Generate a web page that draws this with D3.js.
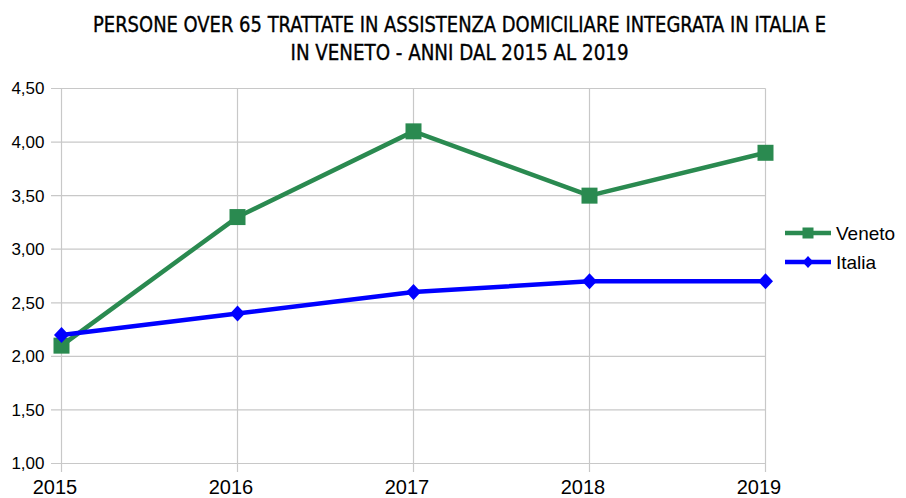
<!DOCTYPE html>
<html><head><meta charset="utf-8">
<script src="https://cdn.jsdelivr.net/npm/d3@7"></script>
<style>body{margin:0;background:#fff}svg{display:block}</style>
</head><body>
<svg id="c" width="906" height="498"></svg>
<script>
const years = [2015, 2016, 2017, 2018, 2019];
const veneto = [2.1, 3.3, 4.1, 3.5, 3.9];
const italia = [2.2, 2.4, 2.6, 2.7, 2.7];
const yTicks = [1.0, 1.5, 2.0, 2.5, 3.0, 3.5, 4.0, 4.5];
const titleLines = ["PERSONE OVER 65 TRATTATE IN ASSISTENZA DOMICILIARE INTEGRATA IN ITALIA E", "IN VENETO - ANNI DAL 2015 AL 2019"];
const seriesNames = ["Veneto", "Italia"];
const colors = {Veneto: "#2a8a50", Italia: "#0000ff"};

const svg = d3.select("#c");
const x = d3.scalePoint().domain(years).range([61.5, 765.5]);
const y = d3.scaleLinear().domain([1, 4.5]).range([463.5, 88.5]);
const fmt = d => d3.format(".2f")(d).replace(".", ",");

// grid
svg.append("g").selectAll("line").data(yTicks).join("line")
  .attr("x1", 51).attr("x2", 765.5)
  .attr("y1", d => y(d)).attr("y2", d => y(d))
  .attr("stroke", "#c8c8c8").attr("stroke-width", 1.2);
svg.append("g").selectAll("line").data(years).join("line")
  .attr("x1", d => x(d)).attr("x2", d => x(d))
  .attr("y1", 88.5).attr("y2", 472)
  .attr("stroke", "#c8c8c8").attr("stroke-width", 1.2);

// axes labels
const yAxis = d3.axisLeft(y).tickValues(yTicks).tickFormat(fmt).tickSize(0).tickPadding(17);
const gy = svg.append("g").attr("transform", "translate(61.5,0)").call(yAxis);
gy.select(".domain").remove();
gy.selectAll("text").attr("font-family", "Liberation Sans, Arial, sans-serif").attr("font-size", 17).attr("fill", "#000");

const xAxis = d3.axisBottom(x).tickSize(0).tickPadding(16);
const gx = svg.append("g").attr("transform", "translate(-7,463.5)").call(xAxis);
gx.select(".domain").remove();
gx.selectAll("text").attr("font-family", "Liberation Sans, Arial, sans-serif").attr("font-size", 20).attr("fill", "#000");

// lines
const line = d3.line().x((d, i) => x(years[i])).y(d => y(d));
const data = {Veneto: veneto, Italia: italia};
seriesNames.forEach(name => {
  svg.append("path").datum(data[name]).attr("d", line)
    .attr("fill", "none").attr("stroke", colors[name]).attr("stroke-width", 4.5)
    .attr("stroke-linejoin", "round");
});
// markers
svg.append("g").selectAll("rect").data(veneto).join("rect")
  .attr("x", (d, i) => x(years[i]) - 8).attr("y", d => y(d) - 8)
  .attr("width", 16).attr("height", 16).attr("fill", colors.Veneto);
const diamond = (w, h) => `M0,${-h}L${w},0L0,${h}L${-w},0Z`;
svg.append("g").selectAll("path").data(italia).join("path")
  .attr("transform", (d, i) => `translate(${x(years[i])},${y(d)})`)
  .attr("d", diamond(7.5, 8)).attr("fill", colors.Italia);

// legend
const lg = svg.append("g");
seriesNames.forEach((name, i) => {
  const ly = 233 + i * 29;
  lg.append("line").attr("x1", 785).attr("x2", 831).attr("y1", ly).attr("y2", ly)
    .attr("stroke", colors[name]).attr("stroke-width", 4.5);
  if (name === "Veneto") lg.append("rect").attr("x", 802.5).attr("y", ly - 5.5).attr("width", 11).attr("height", 11).attr("fill", colors[name]);
  else lg.append("path").attr("transform", `translate(808,${ly})`).attr("d", diamond(5.5, 6)).attr("fill", colors[name]);
  lg.append("text").attr("x", 836).attr("y", ly + 7).text(name)
    .attr("font-family", "Liberation Sans, Arial, sans-serif").attr("font-size", 19).attr("fill", "#000");
});

// title
const titleWidths = [733, 338];
svg.append("g").selectAll("text").data(titleLines).join("text")
  .attr("x", 459.5).attr("y", (d, i) => 32 + i * 28)
  .attr("text-anchor", "middle")
  .attr("font-family", "DejaVu Sans Condensed, Liberation Sans Narrow, sans-serif")
  .attr("font-size", 22).attr("fill", "#000")
  .attr("stroke", "#000").attr("stroke-width", 0.35)
  .attr("textLength", (d, i) => titleWidths[i])
  .attr("lengthAdjust", "spacingAndGlyphs")
  .text(d => d);
</script>
</body></html>
